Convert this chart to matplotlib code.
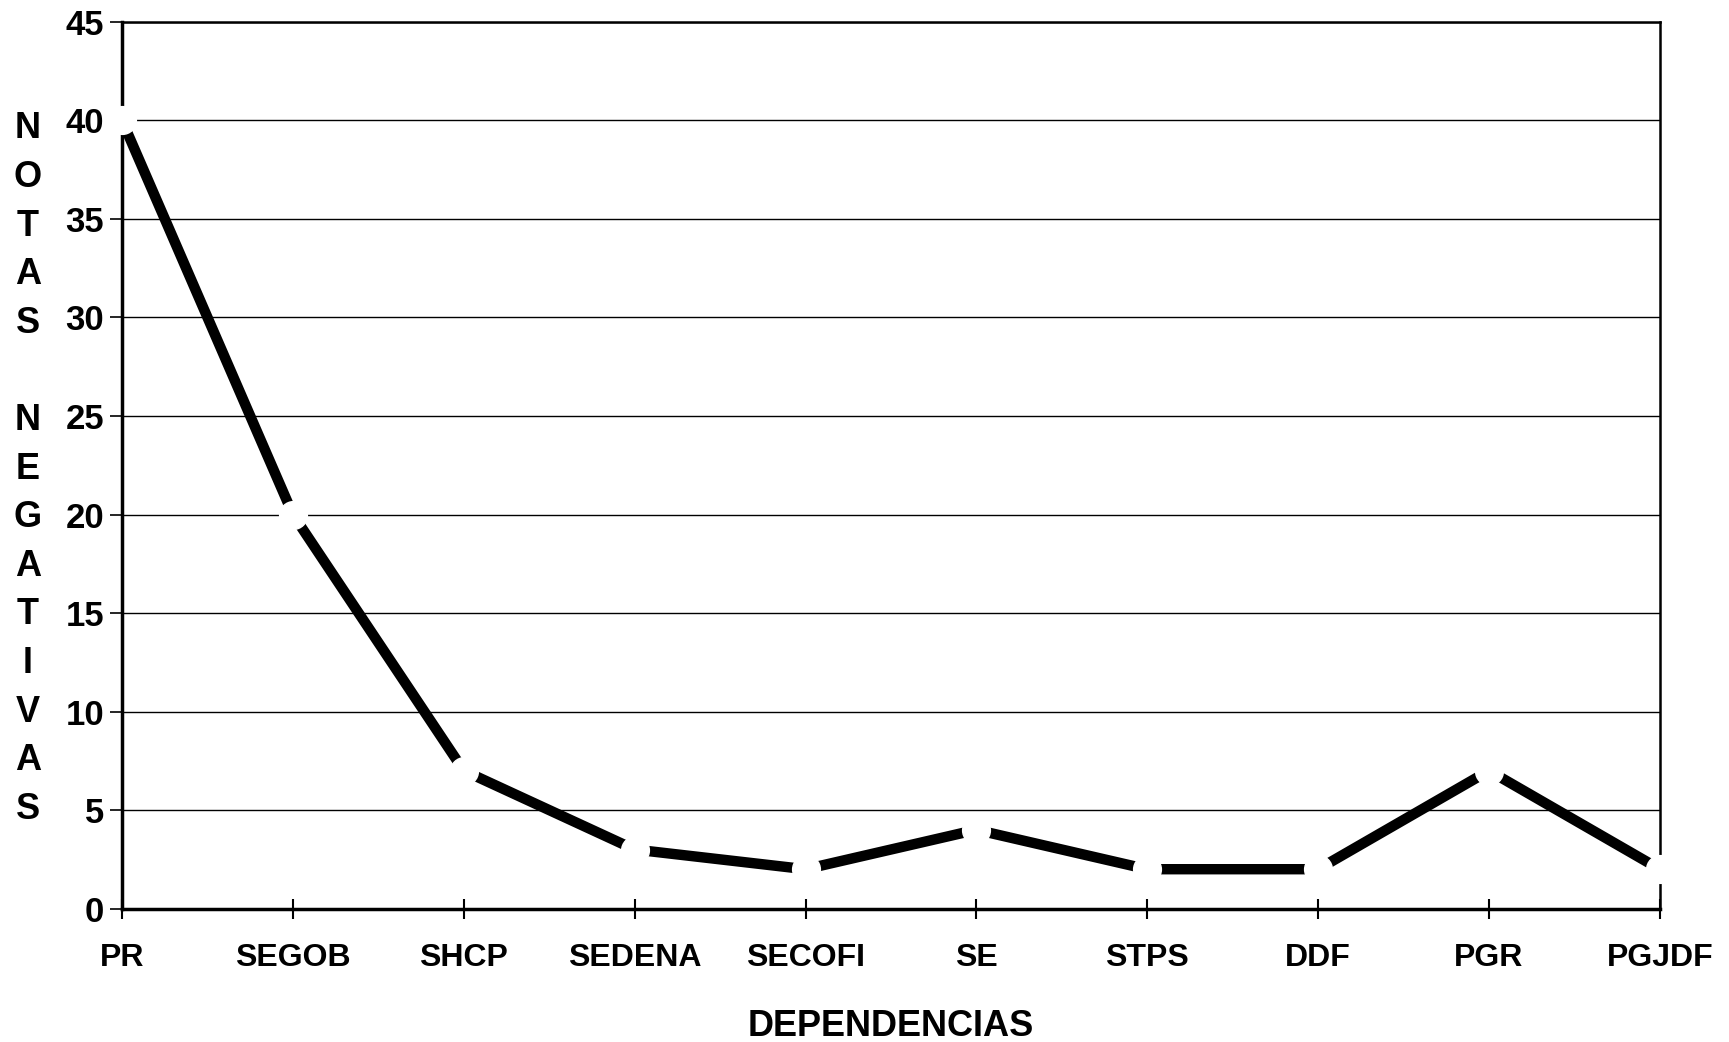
import matplotlib
matplotlib.use("Agg")
import matplotlib.pyplot as plt

categories = ["PR", "SEGOB", "SHCP", "SEDENA", "SECOFI", "SE", "STPS", "DDF", "PGR", "PGJDF"]
notas_negativas = [40, 20, 7, 3, 2, 4, 2, 2, 7, 2]
y_ticks = [0, 5, 10, 15, 20, 25, 30, 35, 40, 45]
y_label = "NOTAS NEGATIVAS"
x_label = "DEPENDENCIAS"

plt.rcParams['font.family'] = ['Liberation Sans', 'DejaVu Sans']

fig = plt.figure(figsize=(17.29, 10.42), dpi=100)
ax = fig.add_axes([0.0706, 0.128, 0.8894, 0.851])

x = list(range(len(categories)))
for yv in y_ticks[1:]:
    ax.axhline(yv, color="black", lw=1.0, zorder=1)

ax.plot(x, notas_negativas, color="black", lw=7.5, solid_capstyle="butt",
        solid_joinstyle="miter", zorder=3)
ax.plot(x, notas_negativas, linestyle="none", marker="o", markersize=20,
        markerfacecolor="white", markeredgecolor="white", zorder=5, clip_on=False)

ax.set_xlim(0, len(categories) - 1)
ax.set_ylim(0, 45)
ax.set_yticks(y_ticks)
ax.set_yticklabels([str(v) for v in y_ticks], fontsize=25, fontweight="bold")
ax.set_xticks(x)
ax.set_xticklabels(categories, fontsize=23, fontweight="bold")
ax.tick_params(axis="x", direction="inout", length=14, width=1.5, pad=18)
ax.tick_params(axis="y", direction="out", length=9, width=1.2, pad=4)

for side in ["left", "bottom"]:
    ax.spines[side].set_linewidth(2.5)
for side in ["top", "right"]:
    ax.spines[side].set_linewidth(1.8)
for s in ax.spines.values():
    s.set_zorder(2)

ax.text(0.5, -0.133, x_label, transform=ax.transAxes, ha="center", va="center",
        fontsize=26, fontweight="bold")

# vertical stacked y label
letters = list(y_label)
top_y = 1 - 129 / 1042
step = 48.6 / 1042
for i, ch in enumerate(letters):
    fig.text(28 / 1729, top_y - i * step, ch, ha="center", va="center",
             fontsize=26, fontweight="bold")

fig.savefig("out.png", dpi=100)
